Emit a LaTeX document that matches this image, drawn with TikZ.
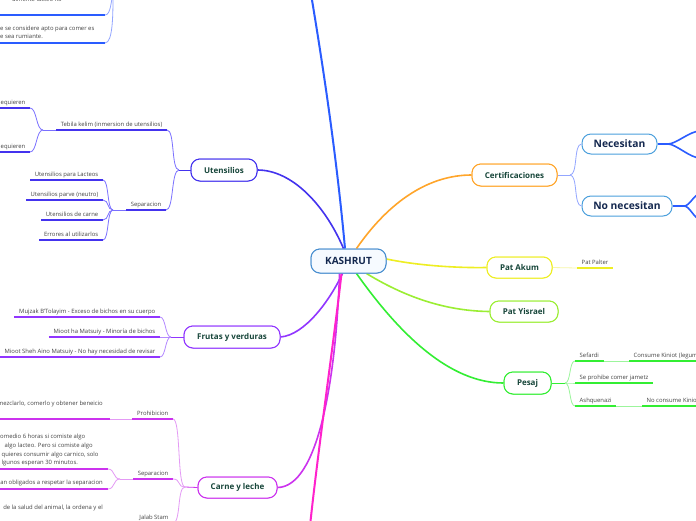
\documentclass[tikz,border=0pt]{standalone}
\usepackage{fontspec}
\setmainfont{Open Sans}
\definecolor{tgreen}{HTML}{17463A}
\definecolor{tnavy}{HTML}{14284F}
\definecolor{kborder}{HTML}{4A8FD0}
\definecolor{kfill}{HTML}{F6FAFF}
\definecolor{cblue}{HTML}{2A5CFF}
\definecolor{cind}{HTML}{4433EE}
\definecolor{cindl}{HTML}{7A70FF}
\definecolor{cpurp}{HTML}{9136FF}
\definecolor{cpurpl}{HTML}{B58AFF}
\definecolor{cmag}{HTML}{CC33EE}
\definecolor{cmagl}{HTML}{E49AF5}
\definecolor{cpink}{HTML}{FF22CC}
\definecolor{corange}{HTML}{FFA52A}
\definecolor{cyellow}{HTML}{EEEE22}
\definecolor{cyellowl}{HTML}{F7F7A8}
\definecolor{clime}{HTML}{9BEE33}
\definecolor{cgreen}{HTML}{33EE33}
\definecolor{cgreenl}{HTML}{9CF59C}
\definecolor{lblue}{HTML}{93A6FF}
\definecolor{nborder}{HTML}{4A9FDC}
\definecolor{tgray}{HTML}{444444}
\begin{document}
\begin{tikzpicture}[x=1pt,y=-1pt,
  mainnode/.style={rectangle, rounded corners=9pt, draw, line width=1pt, fill=white,
    font=\bfseries\fontsize{8}{9}\selectfont, text=tgreen, inner sep=0pt},
  bignode/.style={mainnode, draw=nborder, text=tnavy, font=\bfseries\fontsize{10.3}{11}\selectfont},
  leaf/.style={inner xsep=4.5pt, inner ysep=1.8pt, text height=4.4pt, text depth=1.4pt,
    font=\fontsize{5.9}{7}\selectfont, text=tgray},
  tline/.style={inner sep=0pt, font=\fontsize{5.9}{7}\selectfont, text=tgray},
  ul/.style={line width=1.6pt},
  conn/.style={line width=0.8pt},
  branch/.style={line width=1.6pt}]
\useasboundingbox (0,0) rectangle (696,520);
\fill[white] (0,0) rectangle (696,520);

\coordinate (topend) at (311,-6);
\coordinate (pinkend) at (310,526);

% ---------- main nodes ----------
\node[mainnode, draw=kborder, fill=kfill, text=tnavy, font=\bfseries\fontsize{10}{11}\selectfont,
  minimum width=75pt, minimum height=24pt] (k) at (348.5,261) {KASHRUT};
\node[mainnode, draw=cind, minimum width=66pt, minimum height=22pt] (ute) at (224,170) {Utensilios};
\node[mainnode, draw=cpurp, minimum width=96pt, minimum height=22pt] (fru) at (232,337) {Frutas y verduras};
\node[mainnode, draw=cmag, minimum width=79pt, minimum height=21pt] (car) at (237.5,487.5) {Carne y leche};
\node[mainnode, draw=corange, minimum width=85pt, minimum height=22pt] (cer) at (514.5,175) {Certificaciones};
\node[mainnode, draw=cyellow, minimum width=65pt, minimum height=21pt] (aku) at (519.5,267.5) {Pat Akum};
\node[mainnode, draw=clime, minimum width=68pt, minimum height=21pt] (yis) at (524,311.5) {Pat Yisrael};
\node[mainnode, draw=cgreen, minimum width=47pt, minimum height=22pt] (pes) at (527.5,383) {Pesaj};
\node[bignode, minimum width=75pt, minimum height=20pt] (nec) at (619.5,144) {Necesitan};
\node[bignode, minimum width=90pt, minimum height=20pt] (nonec) at (627,206) {No necesitan};

% ---------- main connectors ----------
\draw[branch, cblue, line width=2pt] ([xshift=-3.5pt]k.north) .. controls (336,150) and (322,60) .. (topend);
\draw[branch, cind] ([xshift=-5pt]k.north) .. controls (325,205) and (292,170) .. (ute.east);
\draw[branch, cpurp] ([xshift=-6pt]k.south) .. controls (330,300) and (305,335) .. (fru.east);
\draw[branch, cmag] ([xshift=-9pt]k.south) .. controls (336,380) and (318,487) .. (car.east);
\draw[branch, cpink, line width=2pt] ([xshift=-7pt]k.south) .. controls (334,340) and (318,450) .. (pinkend);
\draw[branch, corange] ([xshift=8pt]k.north) .. controls (390,200) and (430,175) .. (cer.west);
\draw[branch, cyellow] ([yshift=2pt]k.east) .. controls (420,266) and (460,268) .. (aku.west);
\draw[branch, clime] ([xshift=18pt]k.south) .. controls (410,300) and (450,311) .. (yis.west);
\draw[branch, cgreen] ([xshift=8pt]k.south) .. controls (400,335) and (450,383) .. (pes.west);

\node[mainnode, draw=kborder, fill=kfill, text=tnavy, font=\bfseries\fontsize{10}{11}\selectfont,
  minimum width=75pt, minimum height=24pt] at (348.5,261) {KASHRUT};

% ---------- top-left (blue, parent off page) ----------
\coordinate (tlj) at (113,-6);
\node[tline, anchor=base east] (tl0) at (62,1.5) {almente lacteo no};
\coordinate (tl1a) at (0,15); \coordinate (tl1b) at (105,15);
\draw[ul, cblue] (tl1a) -- (tl1b);
\draw[conn, lblue] (tl1b) .. controls +(6,0) and +(-2,6) .. (tlj);
\node[tline, anchor=base west] (tl2) at (0,30) {e se considere apto para comer es};
\node[tline, anchor=base west] (tl3) at (0,38.5) {e sea rumiante.};
\coordinate (tl2a) at (0,43); \coordinate (tl2b) at (105,43);
\draw[ul, cblue] (tl2a) -- (tl2b);
\draw[conn, lblue] (tl2b) .. controls +(8,0) and +(0,20) .. (tlj);

% ---------- Utensilios subtree ----------
\coordinate (uj) at (179,170);
\draw[conn, cind] (ute.west) -- (uj);
\node[leaf, anchor=south east] (teb) at (167,130) {Tebila kelim (inmersion de utensilios)};
\node[leaf, anchor=south east] (usep) at (166,210) {Separacion};
\draw[ul, cind] (teb.south west) -- (teb.south east);
\draw[ul, cind] (usep.south west) -- (usep.south east);
\draw[conn, cindl] (uj) .. controls +(-8,0) and +(8,0) .. (teb.south east);
\draw[conn, cindl] (uj) .. controls +(-8,0) and +(8,0) .. (usep.south east);

\coordinate (tj) at (43,130);
\draw[conn, cindl] (teb.south west) -- (tj);
\node[leaf, anchor=south east] (req1) at (30,108) {equieren};
\node[leaf, anchor=south east] (req2) at (30,152) {equieren};
\draw[ul, cind] (0,108) -- (req1.south east);
\draw[ul, cind] (0,152) -- (req2.south east);
\draw[conn, cindl] (tj) .. controls +(-7,0) and +(7,0) .. (req1.south east);
\draw[conn, cindl] (tj) .. controls +(-7,0) and +(7,0) .. (req2.south east);

\coordinate (sj) at (113,210);
\draw[conn, cindl] (usep.south west) -- (sj);
\node[leaf, anchor=south east] (u1) at (103,180) {Utensilios para Lacteos};
\node[leaf, anchor=south east] (u2) at (103,200) {Utensilios parve (neutro)};
\node[leaf, anchor=south east] (u3) at (103,220) {Utensilios de carne};
\node[leaf, anchor=south east] (u4) at (103,240) {Errores al utilizarlos};
\foreach \n in {u1,u2,u3,u4}{
  \draw[ul, cind] (\n.south west) -- (\n.south east);
  \draw[conn, cindl] (sj) .. controls +(-6,0) and +(6,0) .. (\n.south east);
}

% ---------- Frutas subtree ----------
\coordinate (fj) at (171,337);
\draw[conn, cpurp] (fru.west) -- (fj);
\node[leaf, anchor=south east] (f1) at (160,317) {Mujzak B'Tolayim - Exceso de bichos en su cuerpo};
\node[leaf, anchor=south east] (f2) at (160,337) {Mioot ha Matsuiy - Minoría de bichos};
\node[leaf, anchor=south east] (f3) at (160,357) {Mioot Sheh Aino Matsuiy - No hay necesidad de revisar};
\foreach \n in {f1,f2,f3}{
  \draw[ul, cpurp] (\n.south west) -- (\n.south east);
  \draw[conn, cpurpl] (fj) .. controls +(-6,0) and +(6,0) .. (\n.south east);
}

% ---------- Carne y leche subtree ----------
\coordinate (cj) at (185,487);
\draw[conn, cmag] (car.west) -- (cj);
\node[leaf, anchor=south east] (pro) at (173,419) {Prohibicion};
\node[leaf, anchor=south east] (csep) at (173,479) {Separacion};
\node[leaf, anchor=south east] (jal) at (173,523) {Jalab Stam};
\foreach \n in {pro,csep,jal}{
  \draw[ul, cmag] (\n.south west) -- (\n.south east);
  \draw[conn, cmagl] (cj) .. controls +(-8,0) and +(8,0) .. (\n.south east);
}
\node[tline, anchor=base east] (pro1) at (103,405) {mezclarlo, comerlo y obtener beneicio};
\coordinate (pro1a) at (0,419); \coordinate (pro1b) at (110,419);
\draw[ul, cmag] (pro1a) -- (pro1b);
\draw[conn, cmagl] (pro1b) -- (pro.south west);

\coordinate (csj) at (120,479);
\draw[conn, cmagl] (csep.south west) -- (csj);
\node[tline, anchor=base west] (cs1) at (0,438) {omedio 6 horas si comiste algo};
\node[tline, anchor=base west] (cs2l) at (4.5,447) {algo lacteo. Pero si comiste algo};
\node[tline, anchor=base west] (cs3) at (1.5,456) {quieres consumir algo carnico, solo};
\node[tline, anchor=base west] (cs4) at (1.5,464.5) {lgunos esperan 30 minutos.};
\coordinate (cs1a) at (0,469); \coordinate (cs1b) at (108,469);
\draw[ul, cmag] (cs1a) -- (cs1b);
\node[tline, anchor=base east] (cs2) at (103,484) {an obligados a respetar la separacion};
\coordinate (cs2a) at (0,489); \coordinate (cs2b) at (108,489);
\draw[ul, cmag] (cs2a) -- (cs2b);
\draw[conn, cmagl] (csj) .. controls +(-7,0) and +(7,0) .. (cs1b);
\draw[conn, cmagl] (csj) .. controls +(-7,0) and +(7,0) .. (cs2b);
\node[tline, anchor=base east] (ja1) at (103,509) {de la salud del animal, la ordena y el};

% ---------- Certificaciones subtree ----------
\coordinate (cej) at (570,175);
\draw[conn, lblue] (cer.east) -- (cej);
\draw[conn, lblue] (cej) .. controls +(8,0) and +(-8,0) .. (nec.west);
\draw[conn, lblue] (cej) .. controls +(8,0) and +(-8,0) .. (nonec.west);

\coordinate (nj) at (668,144);
\coordinate (n1) at (700,131); \coordinate (n2) at (700,158);
\draw[branch, cblue] (nec.east) -- (nj);
\draw[branch, cblue] (nj) .. controls +(8,0) and +(-10,0) .. (n1);
\draw[branch, cblue] (nj) .. controls +(8,0) and +(-10,0) .. (n2);
\coordinate (nnj) at (684,206);
\coordinate (nn1) at (700,194); \coordinate (nn2) at (700,219);
\draw[branch, cblue] (nonec.east) -- (nnj);
\draw[branch, cblue] (nnj) .. controls +(6,0) and +(-6,0) .. (nn1);
\draw[branch, cblue] (nnj) .. controls +(6,0) and +(-6,0) .. (nn2);

% ---------- Pat Akum ----------
\node[leaf, anchor=south west] (pal) at (577,268) {Pat Palter};
\draw[conn, cyellowl] (aku.east) -- (pal.south west);
\draw[ul, cyellow] (pal.south west) -- (pal.south east);

% ---------- Pesaj subtree ----------
\coordinate (pj) at (565,383);
\draw[conn, cgreen] (pes.east) -- (pj);
\node[leaf, anchor=south west] (sef) at (575,361) {Sefardi};
\node[leaf, anchor=south west] (jam) at (575,383) {Se prohibe comer jametz};
\node[leaf, anchor=south west] (ash) at (575,406) {Ashquenazi};
\foreach \n in {sef,jam,ash}{
  \draw[ul, cgreen] (\n.south west) -- (\n.south east);
  \draw[conn, cgreenl] (pj) .. controls +(6,0) and +(-6,0) .. (\n.south west);
}
\node[leaf, anchor=south west] (kin1) at (629,361) {Consume Kiniot (legumbres)};
\node[leaf, anchor=south west] (kin2) at (642,406) {No consume Kiniot};
\draw[conn, cgreenl] (sef.south east) -- (kin1.south west);
\draw[conn, cgreenl] (ash.south east) -- (kin2.south west);
\draw[ul, cgreen] (kin1.south west) -- (kin1.south east);
\draw[ul, cgreen] (kin2.south west) -- (kin2.south east);

% redraw main nodes over the connectors
\foreach \col/\cx/\cy/\w/\h/\txt in {
  cind/224/170/66/22/Utensilios,
  cpurp/232/337/96/22/Frutas y verduras,
  cmag/237.5/487.5/79/21/Carne y leche,
  corange/514.5/175/85/22/Certificaciones,
  cyellow/519.5/267.5/65/21/Pat Akum,
  clime/524/311.5/68/21/Pat Yisrael,
  cgreen/527.5/383/47/22/Pesaj}{
  \node[mainnode, draw=\col, minimum width=\w pt, minimum height=\h pt] at (\cx,\cy) {\txt};
}
\end{tikzpicture}
\end{document}
